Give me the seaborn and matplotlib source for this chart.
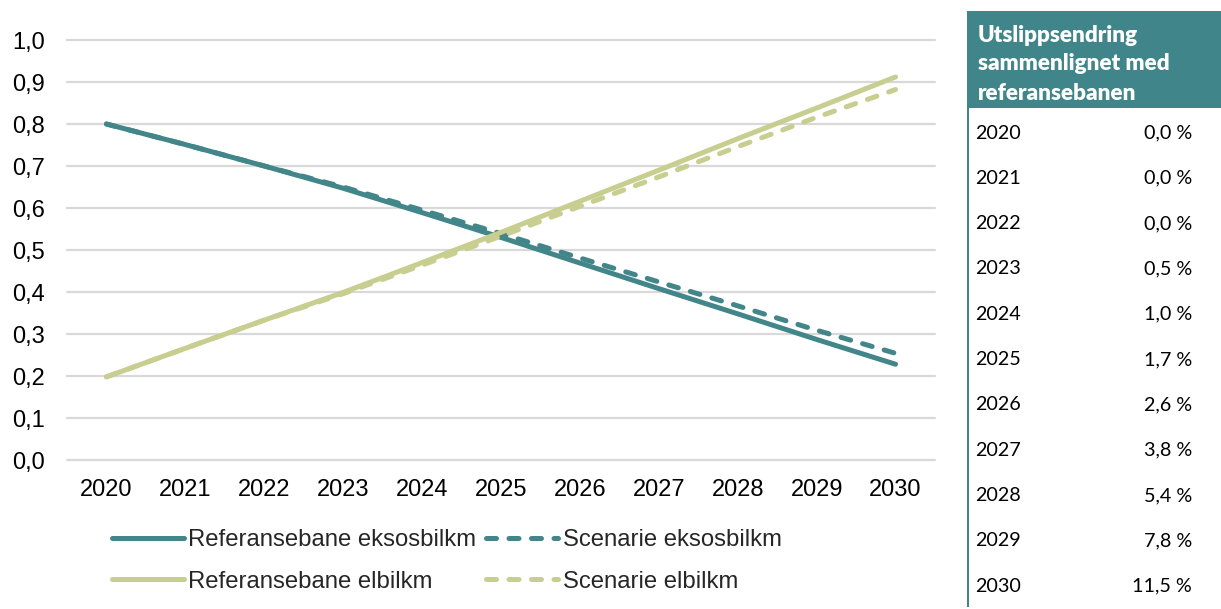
import matplotlib
matplotlib.use("Agg")
import matplotlib.pyplot as plt
from matplotlib.patches import Rectangle
from matplotlib.lines import Line2D
import seaborn as sns
import pandas as pd

# ---------------- data ----------------
years = [2020, 2021, 2022, 2023, 2024, 2025, 2026, 2027, 2028, 2029, 2030]
ref_eksos = [0.80, 0.751, 0.700, 0.647, 0.589, 0.530, 0.469, 0.408, 0.348, 0.287, 0.228]
scen_eksos = [0.80, 0.751, 0.700, 0.650, 0.595, 0.539, 0.481, 0.424, 0.367, 0.309, 0.254]
ref_elbil = [0.198, 0.266, 0.333, 0.399, 0.470, 0.542, 0.616, 0.690, 0.765, 0.838, 0.912]
scen_elbil = [0.198, 0.266, 0.333, 0.396, 0.464, 0.533, 0.604, 0.674, 0.746, 0.816, 0.882]
series_names = ["Referansebane eksosbilkm", "Scenarie eksosbilkm",
                "Referansebane elbilkm", "Scenarie elbilkm"]
y_ticks = [0.0, 0.1, 0.2, 0.3, 0.4, 0.5, 0.6, 0.7, 0.8, 0.9, 1.0]
table_title = ["Utslippsendring", "sammenlignet med", "referansebanen"]
table_years = ["2020", "2021", "2022", "2023", "2024", "2025", "2026", "2027", "2028", "2029", "2030"]
table_pct = ["0,0 %", "0,0 %", "0,0 %", "0,5 %", "1,0 %", "1,7 %", "2,6 %", "3,8 %", "5,4 %", "7,8 %", "11,5 %"]

# ---------------- style ----------------
TEAL = "#42868A"
OLIVE = "#C8CE90"
GRID = "#D9D9D9"
W, H = 1221, 609

sns.set_theme(style="white")
plt.rcParams["font.family"] = ["Liberation Sans", "DejaVu Sans"]

fig = plt.figure(figsize=(W / 100, H / 100), dpi=100)

def fx(px):
    return px / W

def fy(py):
    return 1 - py / H

ax_l, ax_r, ax_t, ax_b = 67, 935, 40, 460
ax = fig.add_axes([fx(ax_l), fy(ax_b), fx(ax_r - ax_l), fy(ax_t) - fy(ax_b)])

df = pd.DataFrame({
    "year": years * 4,
    "value": ref_eksos + scen_eksos + ref_elbil + scen_elbil,
    "series": sum([[n] * len(years) for n in series_names], []),
})

DASH = (0, (2.0, 2.5))
styles = {
    series_names[0]: (TEAL, "-"),
    series_names[1]: (TEAL, DASH),
    series_names[2]: (OLIVE, "-"),
    series_names[3]: (OLIVE, DASH),
}
LW = 3.6
for name in series_names:
    col, ls = styles[name]
    sub = df[df["series"] == name]
    sns.lineplot(data=sub, x="year", y="value", ax=ax, color=col, linewidth=LW,
                 linestyle=ls, legend=False, zorder=3,
                 solid_capstyle="round", dash_capstyle="round")

ax.set_xlim(2019.5, 2030.5)
ax.set_ylim(0, 1.0)
ax.set_yticks(y_ticks)
ax.set_yticklabels([f"{v:.1f}".replace(".", ",") for v in y_ticks])
ax.set_xticks(years)
ax.set_xticklabels([str(y) for y in years])
ax.set_xlabel("")
ax.set_ylabel("")
for s in ax.spines.values():
    s.set_visible(False)
ax.grid(axis="y", color=GRID, linewidth=1.6, zorder=0)
ax.grid(axis="x", visible=False)
for gl in ax.get_ygridlines():
    gl.set_clip_on(False)
ax.tick_params(axis="both", length=0, labelsize=17, colors="black")
ax.tick_params(axis="y", pad=16)
ax.tick_params(axis="x", pad=14)

# legend
handles = [
    Line2D([], [], color=TEAL, lw=LW, ls="-", solid_capstyle="round"),
    Line2D([], [], color=OLIVE, lw=LW, ls="-", solid_capstyle="round"),
    Line2D([], [], color=TEAL, lw=LW, ls=DASH, dash_capstyle="round"),
    Line2D([], [], color=OLIVE, lw=LW, ls=DASH, dash_capstyle="round"),
]
labels = [series_names[0], series_names[2], series_names[1], series_names[3]]
fig.legend(handles, labels, ncol=2, loc="upper left",
           bbox_to_anchor=(fx(112), fy(529)), frameon=False,
           fontsize=17.2, handlelength=3.0, handletextpad=0.2,
           columnspacing=0.4, labelspacing=0.82, borderpad=0, borderaxespad=0)

# ---------------- table ----------------
fig.patches.append(Rectangle((fx(967), fy(108)), fx(W - 967) + 0.01, fy(11) - fy(108),
                             transform=fig.transFigure, facecolor="#3F8589",
                             edgecolor="none", zorder=1))
fig.patches.append(Rectangle((fx(967), fy(607)), fx(2.5), fy(108) - fy(607),
                             transform=fig.transFigure, facecolor="#3F8589",
                             edgecolor="none", zorder=1))
TF = ["Lato", "DejaVu Sans"]
for i, line in enumerate(table_title):
    fig.text(fx(978), fy(35 + i * 29), line, family=TF, fontsize=16.2,
             fontweight="heavy", color="white", va="center", ha="left")
for i, (yr, pc) in enumerate(zip(table_years, table_pct)):
    yy = 133 + i * 45.3
    fig.text(fx(975), fy(yy), yr, family=TF, fontsize=14.2, color="black",
             va="center", ha="left")
    fig.text(fx(1192), fy(yy), pc, family=TF, fontsize=14.2, color="black",
             va="center", ha="right")

fig.savefig("out.png", dpi=100)
